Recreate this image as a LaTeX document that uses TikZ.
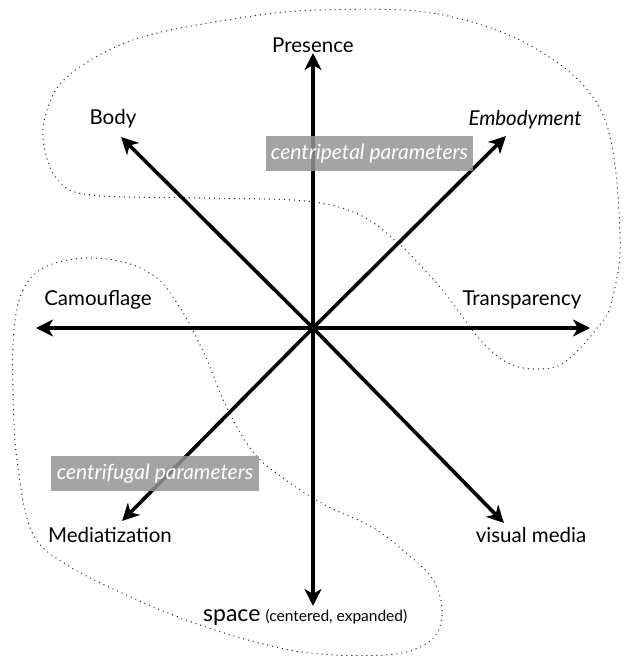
\documentclass[tikz,border=0pt]{standalone}
\usepackage{fontspec}
\setmainfont{Lato}
\usetikzlibrary{arrows.meta}
\begin{document}
\begin{tikzpicture}[x=1pt,y=-1pt,
  axis/.style={line width=3.6pt,-{Stealth[length=17pt,width=17pt,inset=5pt]}},
  blob/.style={line width=1.4pt,line cap=round,dash pattern=on 0pt off 5pt,draw=black!85},
  lbl/.style={inner sep=0pt,font=\fontsize{20.5}{24}\selectfont},
  tag/.style={fill=black!42,fill opacity=0.85,text opacity=1,text=white,inner sep=0pt,
    minimum height=35pt,font=\fontsize{21}{24}\selectfont\itshape}]
\useasboundingbox (0,0) rectangle (625,656);
% dotted regions
\draw[blob] plot[smooth cycle,tension=0.6] coordinates {
 (320,10) (438,14) (538,50) (603,115) (620,233) (612,300) (598,327)
 (565,362) (538,369) (510,364) (485,345) (465,320) (445,293) (420,265)
 (398,243) (360,215) (305,201) (200,198) (90,195) (58,180) (45,150)
 (45,117) (67,77) (133,40) (233,19)};
\draw[blob] plot[smooth cycle,tension=0.6] coordinates {
 (14,330) (23,290) (45,267) (85,258) (127,263) (157,278) (175,300)
 (190,325) (207,360) (227,408) (253,452) (283,478) (325,505) (372,527)
 (405,552) (432,578) (442,608) (437,633) (418,648) (385,655) (320,654)
 (267,645) (200,625) (133,598) (67,565) (32,532) (17,460) (13,392)};
% centre and tips
\coordinate (c) at (313,328);
\coordinate (tN) at (313,53);
\coordinate (tS) at (313,606);
\coordinate (tW) at (36,328);
\coordinate (tE) at (590,328);
\coordinate (tNW) at (121,137);
\coordinate (tNE) at (506,136);
\coordinate (tSW) at (122,521);
\coordinate (tSE) at (504,523);
\foreach \t in {tN,tS,tW,tE,tNW,tNE,tSW,tSE} \draw[axis] (c) -- (\t);
% tags
\node[tag,minimum width=207pt] (cp) at (369.5,153.5) {centripetal parameters};
\node[tag,minimum width=208pt] (cf) at (155,473.5) {centrifugal parameters};
% labels
\node[lbl] (presence) at (313,45) {Presence};
\node[lbl] (body) at (113,119) {Body};
\node[lbl,font=\fontsize{20.5}{24}\selectfont\itshape] (embody) at (525,120) {Embodyment};
\node[lbl] (camo) at (98,300) {Camouflage};
\node[lbl] (transp) at (522,300) {Transparency};
\node[lbl] (media) at (110,535) {Mediatization};
\node[lbl] (visual) at (531,535) {visual media};
\node[lbl,anchor=west] (space) at (203,617) {{\fontsize{23}{24}\selectfont space} {\fontsize{15.5}{18}\selectfont (centered, expanded)}};
\end{tikzpicture}
\end{document}
